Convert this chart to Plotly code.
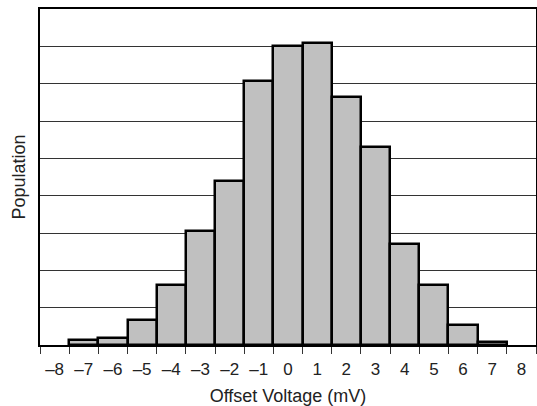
import plotly.graph_objects as go

categories = [-7, -6, -5, -4, -3, -2, -1, 0, 1, 2, 3, 4, 5, 6, 7]
population = [0.13, 0.2, 0.67, 1.62, 3.05, 4.4, 7.07, 8.0, 8.1, 6.63, 5.3, 2.71, 1.6, 0.53, 0.07]
tick_values = list(range(-8, 9))
tick_labels = [("\u2013" + str(-v)) if v < 0 else str(v) for v in tick_values]
edge_ticks = [v + 0.5 for v in range(-9, 9)]

fig = go.Figure()
fig.add_trace(go.Bar(
    x=categories, y=population, width=1,
    marker=dict(color="#c0c0c0", line=dict(color="black", width=2.5)),
))

font = dict(family="Liberation Sans, Arial, sans-serif", size=17, color="#222")
title_font = dict(family="Liberation Sans, Arial, sans-serif", size=18, color="#222")
fig.update_layout(
    width=537, height=406,
    margin=dict(l=40, r=1, t=9, b=61),
    plot_bgcolor="white", paper_bgcolor="white",
    showlegend=False, bargap=0,
    font=font,
    xaxis=dict(
        range=[-8.5, 8.5], tickvals=tick_values, ticktext=tick_labels,
        ticks="", showgrid=False, zeroline=False,
        showline=True, linecolor="black", linewidth=2, mirror=True,
        tickfont=font, ticklabelstandoff=8,
        minor=dict(tickvals=edge_ticks, ticks="outside", ticklen=7, tickwidth=1, tickcolor="#333", showgrid=False),
        title=dict(text="Offset Voltage (mV)", font=title_font, standoff=13),
        automargin=False,
    ),
    yaxis=dict(
        range=[0, 9], dtick=1, showticklabels=False, ticks="",
        showgrid=True, gridcolor="#333", gridwidth=1, zeroline=False,
        showline=True, linecolor="black", linewidth=2, mirror=True,
        title=dict(text="Population", font=title_font, standoff=8),
        automargin=False,
    ),
)
fig.write_html(
    "out.html",
    config={"displayModeBar": False},
    post_script="document.body.style.margin='0';document.body.style.overflow='hidden';",
)
